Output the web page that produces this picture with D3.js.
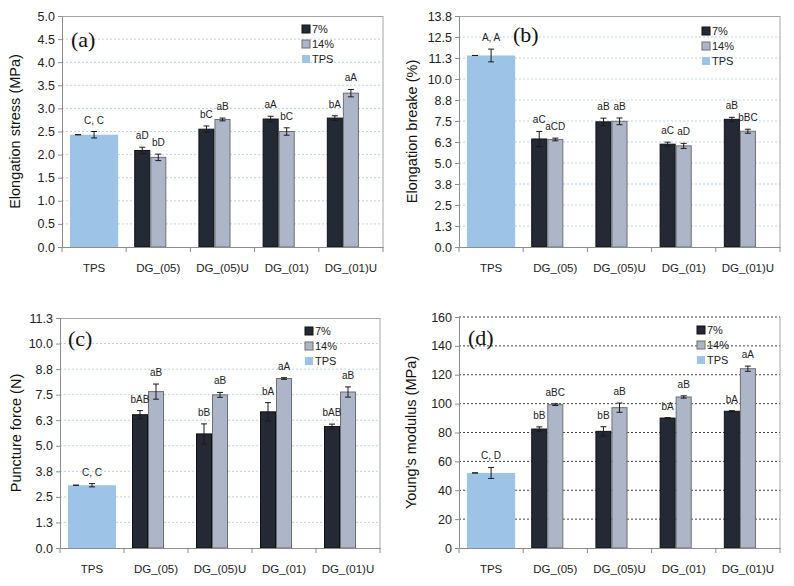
<!DOCTYPE html>
<html>
<head>
<meta charset="utf-8">
<script src="https://cdn.jsdelivr.net/npm/d3@7"></script>
<style>
  body { margin: 0; background: #fff; }
  svg { display: block; font-family: "Liberation Sans", Arial, sans-serif; }
</style>
</head>
<body>
<svg width="794" height="586"></svg>
<script>
var categories = ["TPS", "DG_(05)", "DG_(05)U", "DG_(01)", "DG_(01)U"];
var groups = categories.slice(1);
var seriesNames = ["7%", "14%", "TPS"];

// (a) elongation stress
var stress7 = [2.09, 2.55, 2.77, 2.79];
var stressErr7 = [0.07, 0.07, 0.06, 0.05];
var stress14 = [1.94, 2.76, 2.50, 3.33];
var stressErr14 = [0.07, 0.03, 0.08, 0.08];
var stressTps = 2.43, stressTpsErr = 0.07;
var stressLab7 = ["aD", "bC", "aA", "bA"];
var stressLab14 = ["bD", "aB", "bC", "aA"];
var stressTpsLab = "C,  C";
var stressTicks = [0, 0.5, 1, 1.5, 2, 2.5, 3, 3.5, 4, 4.5, 5];

// (b) elongation at break
var break7 = [6.43, 7.45, 6.12, 7.60];
var breakErr7 = [0.45, 0.22, 0.12, 0.12];
var break14 = [6.40, 7.48, 6.02, 6.89];
var breakErr14 = [0.08, 0.20, 0.15, 0.12];
var breakTps = 11.4, breakTpsErr = 0.38;
var breakLab7 = ["aC", "aB", "aC", "aB"];
var breakLab14 = ["aCD", "aB", "aD", "bBC"];
var breakTpsLab = "A,  A";
var breakTicks = [0, 1.25, 2.5, 3.75, 5, 6.25, 7.5, 8.75, 10, 11.25, 12.5, 13.75];

// (c) puncture force
var punct7 = [6.52, 5.58, 6.66, 5.94];
var punctErr7 = [0.20, 0.49, 0.45, 0.12];
var punct14 = [7.65, 7.49, 8.29, 7.63];
var punctErr14 = [0.37, 0.12, 0.04, 0.25];
var punctTps = 3.07, punctTpsErr = 0.08;
var punctLab7 = ["bAB", "bB", "bA", "bAB"];
var punctLab14 = ["aB", "aB", "aA", "aB"];
var punctTpsLab = "C,  C";
var punctTicks = [0, 1.25, 2.5, 3.75, 5, 6.25, 7.5, 8.75, 10, 11.25];

// (d) Young's modulus
var young7 = [82.4, 80.8, 90.0, 94.7];
var youngErr7 = [1.5, 3.2, 0.3, 0.4];
var young14 = [99.3, 97.2, 104.6, 124.2];
var youngErr14 = [0.6, 3.2, 0.8, 1.8];
var youngTps = 52, youngTpsErr = 3.8;
var youngLab7 = ["bB", "bB", "bA", "bA"];
var youngLab14 = ["aBC", "aB", "aB", "aA"];
var youngTpsLab = "C,  D";
var youngTicks = [0, 20, 40, 60, 80, 100, 120, 140, 160];

var colors = {"7%": "#232935", "14%": "#adb6c8", "TPS": "#9dc3e6"};
var strokes = {"7%": "#111", "14%": "#6f6f6f", "TPS": "none"};

var svg = d3.select("svg");

function drawPanel(p) {
  var w = p.right - p.left, h = p.bottom - p.top;
  var g = svg.append("g").attr("transform", "translate(" + p.left + "," + p.top + ")");

  var x0 = d3.scaleBand().domain(categories).range([0, w]);
  var x1 = d3.scaleBand().domain(seriesNames).range([0, x0.bandwidth()]).paddingOuter(0.5);
  var y = d3.scaleLinear().domain([0, p.ticks[p.ticks.length - 1]]).range([h, 0]);

  // grid
  g.selectAll(".grid")
    .data(p.ticks.filter(function(t) { return t > 0 && (p.dark || t < y.domain()[1]); }))
    .enter().append("line")
    .attr("x1", 0).attr("x2", w)
    .attr("y1", function(d) { return y(d); })
    .attr("y2", function(d) { return y(d); })
    .attr("stroke", p.dark ? "#444" : "#b9d3ee")
    .attr("stroke-width", 1)
    .attr("stroke-dasharray", p.dark ? "2,2" : "2,2");

  // frame
  if (!p.dark) {
    g.append("line").attr("x1", 0).attr("x2", w).attr("y1", 0.5).attr("y2", 0.5).attr("stroke", "#a6a6a6");
  }
  g.append("line").attr("x1", w).attr("x2", w).attr("y1", 0).attr("y2", h).attr("stroke", "#a6a6a6");

  // rows
  var rows = [];
  groups.forEach(function(c, i) {
    rows.push({cat: c, s: "7%", v: p.v7[i], e: p.e7[i], lab: p.lab7[i]});
    rows.push({cat: c, s: "14%", v: p.v14[i], e: p.e14[i], lab: p.lab14[i]});
  });

  // TPS bar spans all three slots
  g.append("rect")
    .attr("x", x0("TPS") + x1("7%"))
    .attr("width", x1.bandwidth() * 3)
    .attr("y", y(p.tps))
    .attr("height", h - y(p.tps))
    .attr("fill", colors.TPS);

  g.selectAll(".bar").data(rows).enter().append("rect")
    .attr("x", function(d) { return x0(d.cat) + x1(d.s) + 0.5; })
    .attr("width", x1.bandwidth() - 1)
    .attr("y", function(d) { return y(d.v); })
    .attr("height", function(d) { return h - y(d.v); })
    .attr("fill", function(d) { return colors[d.s]; })
    .attr("stroke", function(d) { return strokes[d.s]; })
    .attr("stroke-width", 1);

  // error bars
  var errs = rows.map(function(d) {
    return {x: x0(d.cat) + x1(d.s) + x1.bandwidth() / 2, v: d.v, e: d.e, lab: d.lab};
  });
  errs.push({x: x0("TPS") + x1("14%") + x1.bandwidth() / 2, v: p.tps, e: p.tpsErr, lab: p.tpsLab});
  errs.push({x: x0("TPS") + x1("7%") + x1.bandwidth() / 2, v: p.tps, e: 0, lab: ""});

  var eb = g.selectAll(".err").data(errs).enter().append("g").attr("stroke", "#1a1a1a").attr("stroke-width", 1);
  eb.append("line")
    .attr("x1", function(d) { return d.x; }).attr("x2", function(d) { return d.x; })
    .attr("y1", function(d) { return y(d.v - d.e); }).attr("y2", function(d) { return y(d.v + d.e); });
  eb.append("line")
    .attr("x1", function(d) { return d.x - 3; }).attr("x2", function(d) { return d.x + 3; })
    .attr("y1", function(d) { return y(d.v + d.e); }).attr("y2", function(d) { return y(d.v + d.e); });
  eb.append("line")
    .attr("x1", function(d) { return d.x - 3; }).attr("x2", function(d) { return d.x + 3; })
    .attr("y1", function(d) { return y(d.v - d.e); }).attr("y2", function(d) { return y(d.v - d.e); });

  g.selectAll(".lab").data(errs).enter().append("text")
    .attr("x", function(d) { return d.x; })
    .attr("y", function(d) { return y(d.v + d.e) - 8; })
    .attr("text-anchor", "middle")
    .attr("font-size", "10px")
    .attr("fill", "#222")
    .text(function(d) { return d.lab; });

  // axes
  var ay = g.append("g")
    .call(d3.axisLeft(y).tickValues(p.ticks).tickFormat(d3.format(p.fmt)).tickSize(4).tickSizeOuter(0));
  ay.selectAll("text").attr("font-size", "12.5px").attr("fill", "#222").attr("x", -7);

  var ax = g.append("g").attr("transform", "translate(0," + h + ")")
    .call(d3.axisBottom(x0).tickSize(0).tickSizeOuter(0));
  ax.selectAll("text").attr("font-size", "11.5px").attr("fill", "#222").attr("dy", "1.9em");
  ax.selectAll(".bnd").data(categories.map(function(c) { return x0(c); }).concat([w]))
    .enter().append("line").attr("class", "bnd")
    .attr("x1", function(d) { return d; }).attr("x2", function(d) { return d; })
    .attr("y1", 0).attr("y2", 5).attr("stroke", "#888");

  g.selectAll(".domain").attr("stroke", "#8c8c8c");
  g.selectAll(".tick line").attr("stroke", "#8c8c8c");

  // y title
  svg.append("text")
    .attr("transform", "translate(" + p.titleX + "," + (p.top + h / 2) + ") rotate(-90)")
    .attr("text-anchor", "middle")
    .attr("dy", "0.35em")
    .attr("font-size", "14.5px")
    .attr("fill", "#111")
    .text(p.title);

  // panel tag
  svg.append("text")
    .attr("x", p.tagX).attr("y", p.tagY)
    .attr("font-family", "'Liberation Serif', 'DejaVu Serif', serif")
    .attr("font-size", "22px")
    .attr("fill", "#111")
    .text(p.tag);

  // legend
  var lg = svg.append("g").attr("transform", "translate(" + p.legX + "," + p.legY + ")");
  var li = lg.selectAll(".li").data(seriesNames).enter().append("g")
    .attr("transform", function(d, i) { return "translate(0," + (i * 15) + ")"; });
  li.append("rect").attr("x", 0).attr("y", -4).attr("width", 8).attr("height", 8)
    .attr("fill", function(d) { return colors[d]; })
    .attr("stroke", function(d) { return d === "TPS" ? "none" : strokes[d]; });
  li.append("text").attr("x", 10).attr("y", 0).attr("dy", "0.35em")
    .attr("font-size", "11px").attr("fill", "#222").text(function(d) { return d; });
}

var panels = [
  {left: 62, top: 16, right: 383, bottom: 247, ticks: stressTicks, fmt: ".1f",
   v7: stress7, e7: stressErr7, v14: stress14, e14: stressErr14, lab7: stressLab7, lab14: stressLab14,
   tps: stressTps, tpsErr: stressTpsErr, tpsLab: stressTpsLab,
   title: "Elongation stress (MPa)", titleX: 15, tag: "(a)", tagX: 71, tagY: 47, legX: 302, legY: 29},
  {left: 459, top: 16, right: 780, bottom: 247, ticks: breakTicks, fmt: ".1f",
   v7: break7, e7: breakErr7, v14: break14, e14: breakErr14, lab7: breakLab7, lab14: breakLab14,
   tps: breakTps, tpsErr: breakTpsErr, tpsLab: breakTpsLab,
   title: "Elongation breake (%)", titleX: 412, tag: "(b)", tagX: 513, tagY: 42, legX: 702, legY: 31},
  {left: 60, top: 318, right: 380, bottom: 548, ticks: punctTicks, fmt: ".1f",
   v7: punct7, e7: punctErr7, v14: punct14, e14: punctErr14, lab7: punctLab7, lab14: punctLab14,
   tps: punctTps, tpsErr: punctTpsErr, tpsLab: punctTpsLab,
   title: "Puncture force (N)", titleX: 16, tag: "(c)", tagX: 68, tagY: 346, legX: 305, legY: 331},
  {left: 459, top: 317, right: 780, bottom: 548, ticks: youngTicks, fmt: "d", dark: true,
   v7: young7, e7: youngErr7, v14: young14, e14: youngErr14, lab7: youngLab7, lab14: youngLab14,
   tps: youngTps, tpsErr: youngTpsErr, tpsLab: youngTpsLab,
   title: "Young\u2019s modulus (MPa)", titleX: 411, tag: "(d)", tagX: 468, tagY: 345, legX: 697, legY: 330}
];

panels.forEach(drawPanel);
</script>
</body>
</html>
